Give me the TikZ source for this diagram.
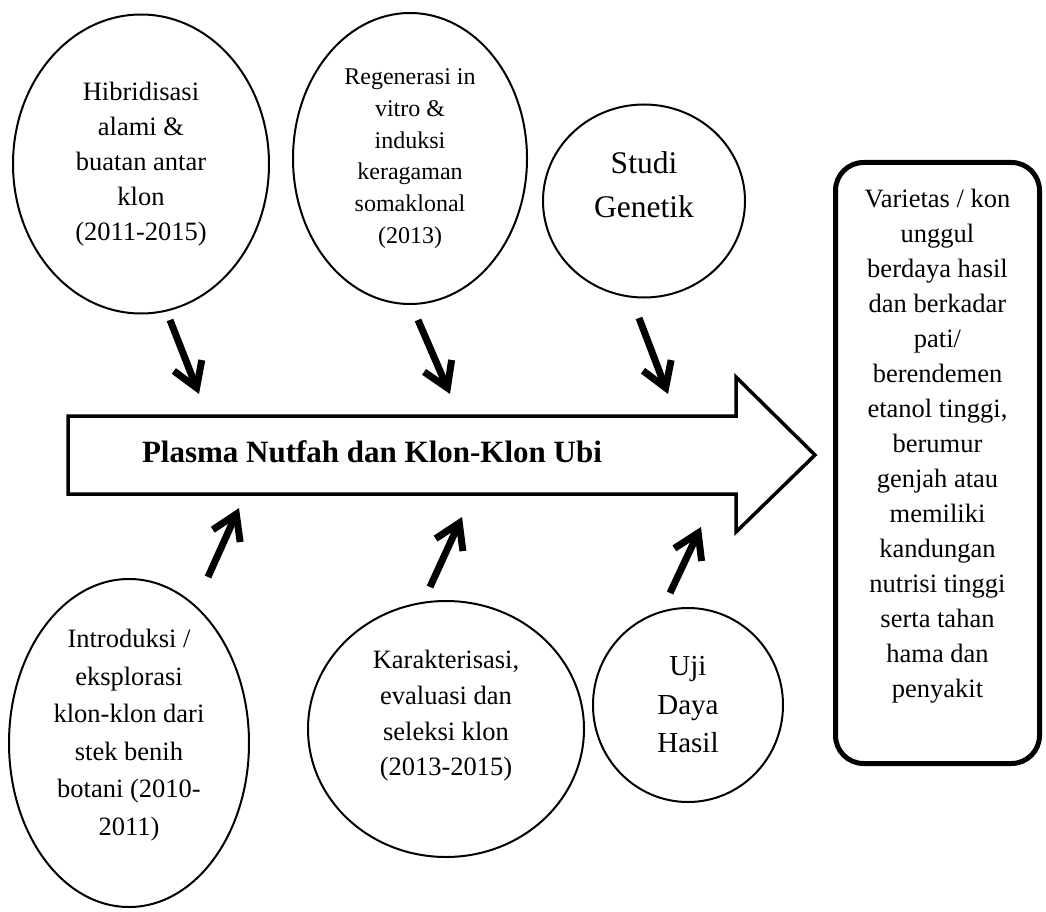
\documentclass[tikz,border=0pt]{standalone}
\usepackage{fontspec}
\setmainfont{Liberation Serif}
\usetikzlibrary{shapes.geometric,arrows.meta}
\begin{document}
\begin{tikzpicture}[x=1pt,y=-1pt]
            \tikzset{
            ubi node/.style={ellipse,draw,line width=2pt,inner sep=0pt,align=center,
              font=\fontsize{26.5}{35}\selectfont},
            ubi box/.style={rectangle,draw,line width=5pt,rounded corners=28pt,inner sep=0pt,
              align=center,font=\fontsize{26.5}{35}\selectfont},
            ubi arrow/.style={-{Straight Barb[length=24pt,width=30pt]},line width=7pt}
            }
            \path[use as bounding box,fill=white] (0,0) rectangle (1046,912);

            % big arrow
            \draw[line width=3.5pt,miter limit=10] (68,416) -- (736,416) -- (736,377) -- (815,455)
              -- (736,532) -- (736,494) -- (68,494) -- cycle;
            \node[anchor=base,font=\fontsize{31}{36}\selectfont\bfseries] (plasma) at (372,462)
              {Plasma Nutfah dan Klon-Klon Ubi};

            \node[ubi node,minimum width=256,minimum height=299] (hib) at (141,164)
              {Hibridisasi\\alami \&\\buatan antar\\klon\\(2011-2015)};
            \node[ubi node,minimum width=234,minimum height=291,font=\fontsize{24}{31.7}\selectfont] (reg) at (410,158.5)
              {Regenerasi in\\vitro \&\\induksi\\keragaman\\somaklonal\\(2013)};
            \node[ubi node,minimum width=202,minimum height=193,font=\fontsize{31.5}{44}\selectfont,text depth=32pt] (stu) at (644,201)
              {Studi\\Genetik};
            \node[ubi node,minimum width=240,minimum height=328,font=\fontsize{26.5}{37.5}\selectfont,text depth=21pt] (intro) at (129,743)
              {Introduksi /\\eksplorasi\\klon-klon dari\\stek benih\\botani (2010-\\2011)};
            \node[ubi node,minimum width=276,minimum height=256,font=\fontsize{26.5}{35.7}\selectfont,text depth=32pt] (kar) at (446,729)
              {Karakterisasi,\\evaluasi dan\\seleksi klon\\(2013-2015)};
            \node[ubi node,minimum width=190,minimum height=194,font=\fontsize{29}{38.5}\selectfont] (uji) at (688,705)
              {Uji\\Daya\\Hasil};
            \node[ubi box,minimum width=204,minimum height=601,text depth=40pt] (hasil) at (937.5,463)
              {Varietas / kon\\unggul\\berdaya hasil\\dan berkadar\\pati/\\berendemen\\etanol tinggi,\\berumur\\genjah atau\\memiliki\\kandungan\\nutrisi tinggi\\serta tahan\\hama dan\\penyakit};

            \coordinate (hib a) at (170,320);  \coordinate (hib b) at (199,394);
            \coordinate (reg a) at (418,320);  \coordinate (reg b) at (450,394);
            \coordinate (stu a) at (639,318);  \coordinate (stu b) at (668,394);
            \coordinate (intro a) at (208,577); \coordinate (intro b) at (239,508);
            \coordinate (kar a) at (430,587);  \coordinate (kar b) at (462,517);
            \coordinate (uji a) at (670,593);  \coordinate (uji b) at (701,527);

            \path
            (hib a) edge[ubi arrow] (hib b)
            (reg a) edge[ubi arrow] (reg b)
            (stu a) edge[ubi arrow] (stu b)
            (intro a) edge[ubi arrow] (intro b)
            (kar a) edge[ubi arrow] (kar b)
            (uji a) edge[ubi arrow] (uji b)
            ;
        \end{tikzpicture}
\end{document}
